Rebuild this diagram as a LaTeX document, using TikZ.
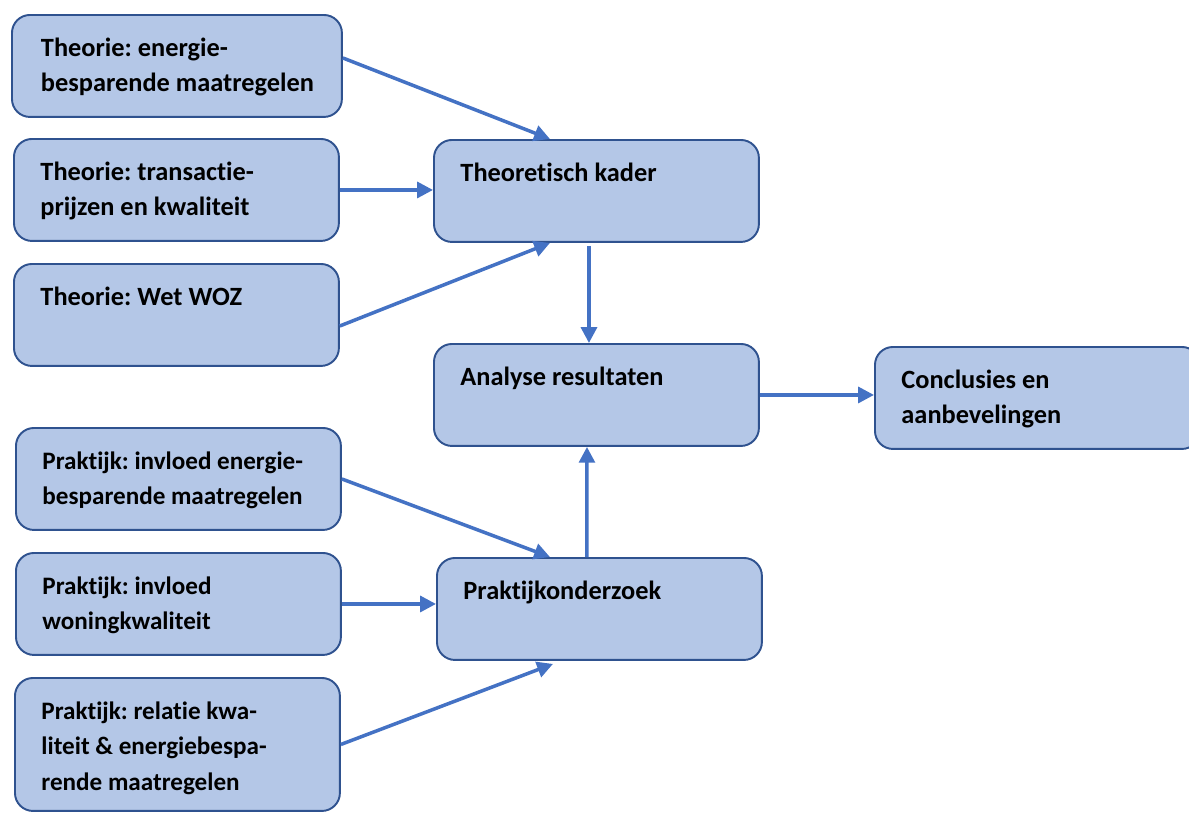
\documentclass[tikz,border=0pt]{standalone}
\usepackage{fontspec}
\setmainfont{Carlito}[Ligatures=NoCommon]
\frenchspacing
\usetikzlibrary{positioning,arrows.meta}
\definecolor{boxfill}{HTML}{B4C7E7}
\definecolor{boxline}{HTML}{2F528F}
\definecolor{flow}{HTML}{4472C4}
\newcommand{\boxtext}[2][1.4cm]{\parbox[c][#1][t]{5.54cm}{\raggedright\leftskip=0.05cm\strut#2}}

\begin{document}
\begin{tikzpicture}[x=0.02cm, y=-0.02cm,
  block/.style={draw=boxline, fill=boxfill, line width=1.1pt, rounded corners=0.36cm,
                anchor=north west, minimum width=6.5cm, minimum height=2.02cm,
                inner xsep=0.48cm, inner ysep=0.32cm, align=left,
                font=\fontsize{15pt}{20.4pt}\selectfont\bfseries},
  prblock/.style={block, font=\fontsize{14.3pt}{20.4pt}\selectfont\bfseries},
  link/.style={draw=flow, line width=2pt, -{Triangle[length=9pt,width=9pt]}}
]
\useasboundingbox (0,0) rectangle (1189,812);

\node[block, minimum width=6.6cm] (th1) at (11,14)
    {\boxtext{Theorie: energie-\\besparende maatregelen}};
\node[block] (th2) at (13,138)
    {\boxtext{Theorie: transactie-\\prijzen en kwaliteit}};
\node[block] (th3) at (13,263)
    {\boxtext{Theorie: Wet WOZ}};

\node[block] (kader)   at (433,139) {\boxtext{Theoretisch kader}};
\node[block] (analyse) at (433,343) {\boxtext{Analyse resultaten}};
\node[block] (concl)   at (874,346) {\boxtext{Conclusies en\\aanbevelingen}};

\node[prblock] (pr1) at (15,427)
    {\boxtext{Praktijk: invloed energie-\\besparende maatregelen}};
\node[prblock] (pr2) at (15,552)
    {\boxtext{Praktijk: invloed\\woningkwaliteit}};
\node[prblock] (pr3) at (14,677)
    {\boxtext[2.02cm]{Praktijk: relatie kwa-\\liteit \& energiebespa-\\rende maatregelen}};

\node[block] (onderzoek) at (436,557) {\boxtext{Praktijkonderzoek}};

\draw[link] ([yshift=0.16cm]th1.east) -- ([xshift=2.34cm]kader.north west);
\draw[link] (th2.east) -- (th2.east -| kader.west);
\draw[link] ([yshift=-0.22cm]th3.east) -- ([xshift=2.34cm]kader.south west);
\draw[link] ([xshift=3.12cm,yshift=-0.06cm]kader.south west) -- ([xshift=3.12cm]analyse.north west);
\draw[link] (analyse.east) -- (analyse.east -| concl.west);
\draw[link] (pr1.east) -- ([xshift=2.28cm]onderzoek.north west);
\draw[link] (pr2.east) -- (pr2.east -| onderzoek.west);
\draw[link] (pr3.east) -- ([xshift=2.34cm,yshift=-0.06cm]onderzoek.south west);
\draw[link] ([xshift=3.02cm]onderzoek.north west) -- ([xshift=3.08cm]analyse.south west);
\end{tikzpicture}
\end{document}
